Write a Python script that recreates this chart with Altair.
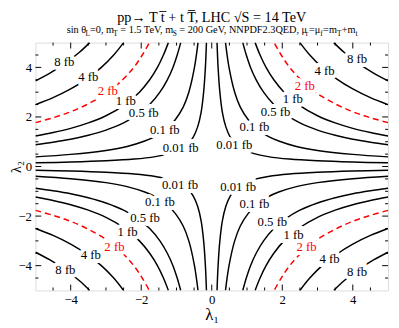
import altair as alt
import pandas as pd

# ---- contour curves in the upper-left quadrant: |lambda1| (a) and |lambda2| (b)
lvl_names = ["8 fb", "4 fb", "2 fb", "1 fb", "0.5 fb", "0.1 fb", "0.01 fb"]
c8_a = [5.0, 4.6, 4.16, 3.76, 3.46]
c8_b = [3.46, 3.76, 4.16, 4.6, 5.0]
c4_a = [5.0, 4.5, 4.0, 3.54, 3.13, 2.78, 2.5]
c4_b = [2.5, 2.78, 3.13, 3.54, 4.0, 4.5, 5.0]
c2_a = [5.0, 4.5, 4.0, 3.5, 2.97, 2.53, 2.21, 1.97, 1.77]
c2_b = [1.77, 1.97, 2.21, 2.53, 2.97, 3.5, 4.0, 4.5, 5.0]
c1_a = [5.0, 4.5, 4.0, 3.5, 3.0, 2.48, 2.05, 1.76, 1.54, 1.37, 1.23]
c1_b = [1.23, 1.37, 1.54, 1.76, 2.05, 2.48, 3.0, 3.5, 4.0, 4.5, 5.0]
c05_a = [5.0, 4.5, 4.0, 3.5, 3.0, 2.5, 2.1, 1.76, 1.47, 1.26, 1.1, 0.98, 0.88]
c05_b = [0.88, 0.98, 1.1, 1.26, 1.47, 1.76, 2.1, 2.5, 3.0, 3.5, 4.0, 4.5, 5.0]
c01_a = [5.0, 4.0, 3.0, 2.4, 1.9, 1.6, 1.4, 1.22, 1.03, 0.81, 0.65, 0.49, 0.39]
c01_b = [0.39, 0.49, 0.65, 0.81, 1.03, 1.22, 1.4, 1.6, 1.9, 2.4, 3.0, 4.0, 5.0]
c001_a = [5.0, 4.0, 3.0, 2.2, 1.6, 1.2, 0.9, 0.78, 0.68, 0.52, 0.4, 0.3, 0.23, 0.18, 0.15]
c001_b = [0.15, 0.18, 0.23, 0.3, 0.4, 0.52, 0.68, 0.78, 0.9, 1.2, 1.6, 2.2, 3.0, 4.0, 5.0]

curves = {
    "8 fb": (c8_a, c8_b), "4 fb": (c4_a, c4_b), "2 fb": (c2_a, c2_b),
    "1 fb": (c1_a, c1_b), "0.5 fb": (c05_a, c05_b), "0.1 fb": (c01_a, c01_b),
    "0.01 fb": (c001_a, c001_b),
}
quadrants = [(-1, 1), (1, 1), (-1, -1), (1, -1)]

# ---- contour labels (text, lambda1, lambda2)
lab_text = ["8 fb", "4 fb", "2 fb", "1 fb", "0.5 fb", "0.1 fb", "0.01 fb"] * 4
lab_x = [-4.18, -3.50, -2.95, -2.44, -1.93, -1.33, -0.88,
         4.12, 3.20, 2.64, 2.30, 1.81, 1.21, 0.64,
         -4.15, -3.43, -2.76, -2.39, -1.89, -1.47, -0.90,
         4.12, 3.34, 2.69, 2.32, 1.72, 1.21, 0.75]
lab_y = [4.21, 3.62, 3.05, 2.63, 2.17, 1.49, 0.74,
         4.34, 3.84, 3.26, 2.73, 2.21, 1.60, 0.88,
         -4.16, -3.59, -3.27, -2.64, -2.09, -1.43, -0.76,
         -4.25, -3.72, -3.27, -2.75, -2.25, -1.52, -0.82]

major_ticks = [-4, -2, 0, 2, 4]
minor_ticks = [-4.5, -3.5, -3, -2.5, -1.5, -1, -0.5, 0.5, 1, 1.5, 2.5, 3, 3.5, 4.5]

rows = []
for name, (aa, bb) in curves.items():
    for qi, (sx, sy) in enumerate(quadrants):
        for i, (a, b) in enumerate(zip(aa, bb)):
            rows.append({"lvl": name, "key": f"{name}-{qi}", "i": i, "l1": sx * a, "l2": sy * b})
lines = pd.DataFrame(rows)
labels = pd.DataFrame({"t": lab_text, "l1": lab_x, "l2": lab_y})

W, H = 360, 253
SERIF = "Liberation Serif"
xs = alt.Scale(domain=[-5, 5], nice=False, zero=False)
ys = alt.Scale(domain=[-5, 5], nice=False, zero=False)

xax = alt.Axis(values=major_ticks, tickSize=0, domain=False, grid=False, labelFont=SERIF,
               labelFontSize=13, labelPadding=3, labelColor="black", title="λ₁", titleFont=SERIF,
               titleFontSize=17, titleFontWeight="normal", titlePadding=1, titleColor="black")
yax = alt.Axis(values=major_ticks, tickSize=0, domain=False, grid=False, labelFont=SERIF,
               labelFontSize=13, labelPadding=4, labelColor="black", title="λ₂", titleFont=SERIF,
               titleFontSize=14.5, titleFontWeight="normal", titlePadding=-6, titleColor="black")

base = alt.Chart(lines)
black = base.transform_filter(alt.datum.lvl != "2 fb").mark_line(
    color="black", strokeWidth=1.5, interpolate="catmull-rom", clip=True
).encode(
    x=alt.X("l1:Q", scale=xs, axis=xax),
    y=alt.Y("l2:Q", scale=ys, axis=yax),
    detail="key:N", order="i:Q",
)
red = base.transform_filter(alt.datum.lvl == "2 fb").mark_line(
    color="#ff0000", strokeWidth=1.5, strokeDash=[6, 4], interpolate="catmull-rom", clip=True
).encode(x=alt.X("l1:Q", scale=xs), y=alt.Y("l2:Q", scale=ys), detail="key:N", order="i:Q")

halo = alt.Chart(labels).mark_text(
    font=SERIF, fontSize=13, fill="white", stroke="white", strokeWidth=8, baseline="middle"
).encode(x=alt.X("l1:Q", scale=xs), y=alt.Y("l2:Q", scale=ys), text="t:N")
txt = alt.Chart(labels).mark_text(font=SERIF, fontSize=13, baseline="middle").encode(
    x=alt.X("l1:Q", scale=xs), y=alt.Y("l2:Q", scale=ys), text="t:N",
    color=alt.condition(alt.datum.t == "2 fb", alt.value("#ff0000"), alt.value("black")),
)

maj = pd.DataFrame({"v": major_ticks})
mnr = pd.DataFrame({"v": minor_ticks})
tick_layers = []
for df, ln in ((maj, 6), (mnr, 3)):
    c = alt.Chart(df).mark_rule(color="black", strokeWidth=1)
    tick_layers += [
        c.encode(x=alt.X("v:Q", scale=xs), y=alt.value(H), y2=alt.value(H - ln)),
        c.encode(x=alt.X("v:Q", scale=xs), y=alt.value(0), y2=alt.value(ln)),
        c.encode(y=alt.Y("v:Q", scale=ys), x=alt.value(0), x2=alt.value(ln)),
        c.encode(y=alt.Y("v:Q", scale=ys), x=alt.value(W), x2=alt.value(W - ln)),
    ]

# ---- title and subtitle (subtitle built from pieces to get subscripts)
title_txt = "pp\u2192 T t\u0305 + t T\u0305, LHC \u221aS = 14 TeV"
title = alt.Chart(pd.DataFrame({"t": [title_txt]})).mark_text(
    font=SERIF, fontSize=14.5, align="center", baseline="alphabetic", color="black"
).encode(text="t:N", x=alt.value(180), y=alt.value(-21.5))

# (text, is_subscript, leading gap in em)
sub_parts = [("sin θ", 0, 0), ("L", 1, 0), ("=0, m", 0, 0), ("T", 1, 0), ("= 1.5 TeV, m", 0, .25),
             ("S", 1, 0), ("= 200 GeV, NNPDF2.3QED, μ", 0, .25), ("r", 1, .1), ("=μ", 0, .08),
             ("f", 1, 0), ("=m", 0, .05), ("T", 1, 0), ("+m", 0, .03), ("t", 1, 0)]
cw = {" ": .16, "=": .564, "+": .564, ",": .25, ".": .25, "s": .389, "i": .278, "n": .5,
      "m": .778, "e": .444, "t": .278, "r": .333, "f": .333, "T": .611, "V": .722, "G": .722,
      "N": .722, "P": .556, "D": .722, "F": .556, "Q": .722, "E": .611, "L": .611, "S": .556,
      "θ": .5, "μ": .53}
FS_MAIN, FS_SUB = 10.5, 7.5
sub_layers = []
xpos = 32.0
for s, is_sub, gap in sub_parts:
    fs = FS_SUB if is_sub else FS_MAIN
    xpos += gap * fs
    sub_layers.append(
        alt.Chart(pd.DataFrame({"t": [s]})).mark_text(
            font=SERIF, fontSize=fs, align="left", baseline="alphabetic", color="black"
        ).encode(text="t:N", x=alt.value(xpos), y=alt.value(-7 if is_sub else -10))
    )
    xpos += sum(cw.get(ch, 0.5) for ch in s) * fs

chart = alt.layer(black, red, halo, txt, *tick_layers, title, *sub_layers).properties(
    width=W, height=H,
    autosize=alt.AutoSizeParams(type="none"),
    padding={"left": 28, "top": 32, "right": 3, "bottom": 35},
).configure_view(stroke="black", strokeWidth=1).configure(background="white")

chart.save("out.html", embed_options={"renderer": "svg", "actions": False})
